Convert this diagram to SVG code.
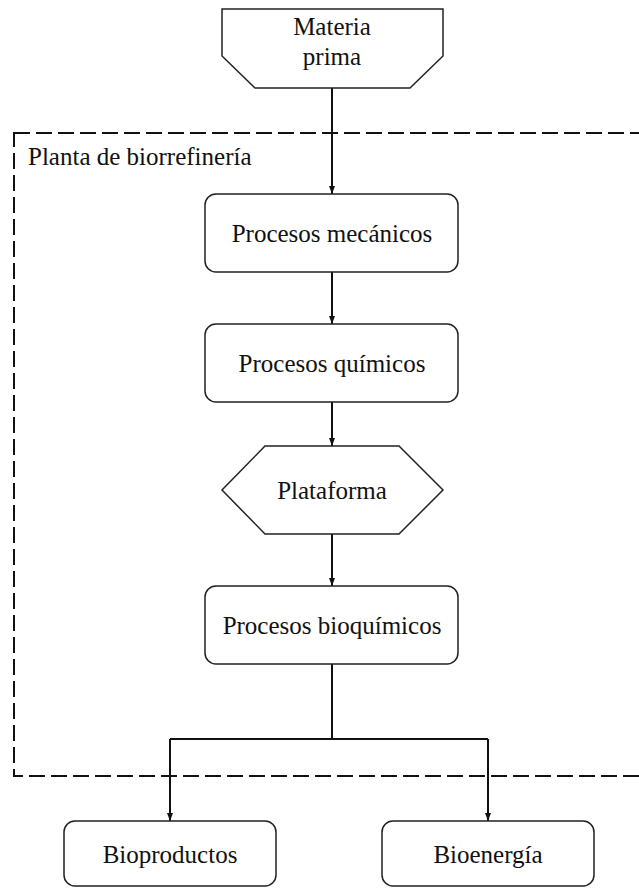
<svg xmlns="http://www.w3.org/2000/svg" width="639" height="888" viewBox="0 0 639 888">
  <style>
    .node { fill: #fff; stroke: #222; stroke-width: 1.5; }
    .label { font-family: "Liberation Serif", "Times New Roman", serif; font-size: 25px; fill: #111; text-anchor: middle; }
    .plain { font-family: "Liberation Serif", "Times New Roman", serif; font-size: 25px; fill: #111; }
    .edge { fill: none; stroke: #111; stroke-width: 2; }
    .frame { fill: none; stroke: #111; stroke-width: 2; stroke-dasharray: 16 6; }
  </style>
  <defs>
    <marker id="arrow" viewBox="0 0 8 6" refX="8" refY="3" markerWidth="8" markerHeight="6" markerUnits="userSpaceOnUse" orient="auto">
      <path d="M0,0 L8,3 L0,6 z" fill="#111"/>
    </marker>
  </defs>

  <!-- plant boundary (runs off the right edge) -->
  <rect id="plant-area" class="frame" x="14" y="133" width="640" height="643"/>
  <text class="plain" x="28" y="165">Planta de biorrefinería</text>

  <g id="connectors">
    <line class="edge" x1="332" y1="88" x2="332" y2="194" marker-end="url(#arrow)"/>
    <line class="edge" x1="332" y1="272" x2="332" y2="324" marker-end="url(#arrow)"/>
    <line class="edge" x1="332" y1="402" x2="332" y2="446" marker-end="url(#arrow)"/>
    <line class="edge" x1="332" y1="534" x2="332" y2="586" marker-end="url(#arrow)"/>
    <!-- fork to the two outputs -->
    <path class="edge" d="M332,664 V739 M170,739 H488"/>
    <line class="edge" x1="170" y1="739" x2="170" y2="821" marker-end="url(#arrow)"/>
    <line class="edge" x1="488" y1="739" x2="488" y2="821" marker-end="url(#arrow)"/>
  </g>

  <g id="materia-prima">
    <path class="node" d="M222,9 H443 V56 L410,88 H255 L222,56 Z"/>
    <text class="label" x="332" y="35">Materia</text>
    <text class="label" x="332" y="65">prima</text>
  </g>

  <g id="procesos-mecanicos">
    <rect class="node" x="205" y="194" width="253" height="78" rx="11"/>
    <text class="label" x="332" y="242">Procesos mecánicos</text>
  </g>

  <g id="procesos-quimicos">
    <rect class="node" x="205" y="324" width="253" height="78" rx="11"/>
    <text class="label" x="332" y="372">Procesos químicos</text>
  </g>

  <g id="plataforma">
    <path class="node" d="M265,446 H399 L443,490 L399,534 H265 L222,490 Z"/>
    <text class="label" x="332" y="499">Plataforma</text>
  </g>

  <g id="procesos-bioquimicos">
    <rect class="node" x="205" y="586" width="253" height="78" rx="11"/>
    <text class="label" x="332" y="634">Procesos bioquímicos</text>
  </g>

  <g id="bioproductos">
    <rect class="node" x="64" y="821" width="212" height="65" rx="11"/>
    <text class="label" x="170" y="863">Bioproductos</text>
  </g>

  <g id="bioenergia">
    <rect class="node" x="382" y="821" width="212" height="65" rx="11"/>
    <text class="label" x="488" y="863">Bioenergía</text>
  </g>
</svg>
